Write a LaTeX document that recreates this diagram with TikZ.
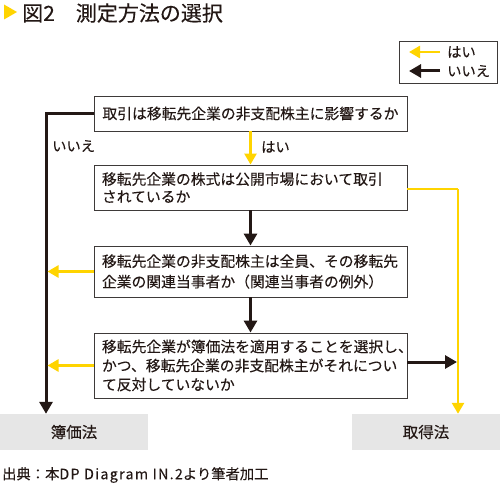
\documentclass[tikz,border=0pt]{standalone}
\usepackage{fontspec}
\setmainfont{Noto Sans CJK JP}[FakeBold=0.15]
\usetikzlibrary{arrows.meta}
\definecolor{ylw}{HTML}{FFD400}
\definecolor{blk}{HTML}{231815}
\definecolor{bordr}{HTML}{3E3A39}
\definecolor{graybox}{HTML}{E6E6E6}
\tikzset{
  qbox/.style={draw=bordr, line width=0.9pt, fill=white, minimum width=313pt, inner xsep=8pt, inner ysep=0pt,
    text width=297pt, align=left, font=\fontsize{14.8}{20.5}\selectfont, text=blk},
  endbox/.style={fill=graybox, minimum width=148pt, minimum height=36pt, inner sep=0pt, font=\fontsize{15.5}{18}\selectfont, text=blk},
  yes/.style={draw=ylw, line width=2.6pt, -{Triangle[length=11pt,width=12pt]}},
  no/.style={draw=blk, line width=3pt, -{Triangle[length=12pt,width=13pt]}},
  yesl/.style={draw=ylw, line width=2.6pt},
  lbl/.style={inner sep=0pt, font=\fontsize{14.3}{16}\selectfont, text=blk},
}
\begin{document}
\begin{tikzpicture}[x=1pt,y=-1pt]
\useasboundingbox (0,0) rectangle (500,484);
% title
\fill[ylw] (4,4.5) -- (4,19.5) -- (17,12) -- cycle;
\node[anchor=west, inner sep=0pt, font=\fontsize{21}{23}\selectfont, text=blk] (title) at (22,13) {図2　測定方法の選択};
% legend
\node[draw=bordr, line width=0.9pt, minimum width=98pt, minimum height=42pt, inner sep=0pt] (legend) at (448,62) {};
\coordinate (ly1) at (440,52);
\coordinate (ly2) at (409,52);
\coordinate (lb1) at (440,71);
\coordinate (lb2) at (409,71);
\draw[yes] (ly1) -- (ly2);
\draw[no] (lb1) -- (lb2);
\node[lbl, anchor=west] (lyes) at (447,52) {はい};
\node[lbl, anchor=west] (lno) at (447,71) {いいえ};
% boxes
\node[qbox, minimum height=35pt, align=center] (b1) at (250.5,113.5) {取引は移転先企業の非支配株主に影響するか};
\node[qbox, minimum height=45pt] (b2) at (250.5,187.5) {移転先企業の株式は公開市場において取引\\[-3pt]されているか};
\node[qbox, minimum height=51pt] (b3) at (250.5,271.5) {移転先企業の非支配株主は全員、その移転先\\企業の関連当事者か（関連当事者の例外）};
\node[qbox, minimum height=65pt] (b4) at (250.5,365.5) {移転先企業が簿価法を適用することを選択し、\\[-1.5pt]かつ、移転先企業の非支配株主がそれについ\\[-1.5pt]て反対していないか};
\node[endbox] (bokaho) at (74,432) {簿価法};
\node[endbox] (shutoku) at (426,432) {取得法};
% connectors
\coordinate (L) at (46,113.5);
\coordinate (R) at (458,189);
\draw[no] (b1.west) -- (L) -- (L |- bokaho.north);
\node[lbl, anchor=west] (noa) at (52,146) {いいえ};
\draw[yes] (b1.south) -- (b2.north);
\node[lbl, anchor=west] (yesa) at (261,147) {はい};
\draw[yesl] (b2.east |- R) -- (R);
\draw[yes] (R) -- (R |- shutoku.north);
\draw[no] (b2.south) -- (b3.north);
\draw[no] (b3.south) -- (b4.north);
\draw[yes, shorten >=1.5pt] (b3.west) -- (b3.west -| L);
\draw[yes, shorten >=1.5pt] (b4.west) -- (b4.west -| L);
\draw[no, shorten >=1pt] ([yshift=3.5pt]b4.east) -- ([yshift=3.5pt]b4.east -| R);
% source
\node[anchor=west, inner sep=0pt, font=\fontsize{14.3}{16}\selectfont, text=blk] (src) at (2,475) {出典：本{\addfontfeatures{LetterSpace=9}DP Diagram IN.2}より筆者加工};
\end{tikzpicture}
\end{document}
